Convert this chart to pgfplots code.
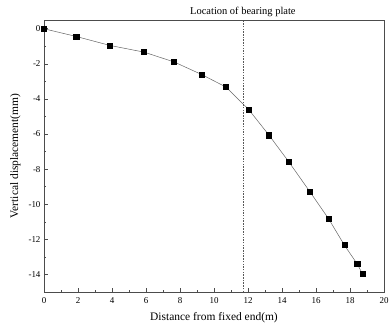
\documentclass[border=0pt]{standalone}
\usepackage{pgfplots}
\pgfplotsset{compat=1.18}
\usepackage{fontspec}
\setmainfont{Liberation Serif}
\begin{document}
\begin{tikzpicture}
\begin{axis}[
  scale only axis,
  width=340bp, height=272bp,
  xmin=0, xmax=20, ymin=-15, ymax=0.5,
  xtick={0,2,...,20}, ytick={-14,-12,...,0},
  minor x tick num=1, minor y tick num=1,
  tick align=inside,
  xtick pos=bottom, ytick pos=left,
  major tick length=4bp, minor tick length=2.5bp,
  axis line style={draw=gray!60!black, line width=0.9pt},
  every tick/.style={gray!60!black, line width=0.6pt},
  tick label style={font=\fontsize{9}{10}\selectfont},
  xticklabel style={yshift=-2bp},
  /pgf/number format/assume math mode=true,
  xlabel={Distance from fixed end(m)},
  ylabel={Vertical displacement(mm)},
  label style={font=\fontsize{11.5}{13}\selectfont},
  xlabel style={yshift=-2bp},
  ylabel style={yshift=1bp},
  clip=false,
]
\addplot[draw=gray!80!black, line width=0.5pt, mark=square*, mark size=2.6bp, mark options={fill=black, draw=black}]
coordinates {
(0,0) (1.90,-0.44) (3.88,-0.95) (5.88,-1.33) (7.65,-1.89) (9.28,-2.61)
(10.70,-3.32) (12.04,-4.60) (13.24,-6.07) (14.39,-7.57) (15.63,-9.27)
(16.75,-10.84) (17.67,-12.33) (18.43,-13.41) (18.73,-13.96)
};
\addplot[draw=gray!70!black, dash pattern=on 1.5bp off 1.2bp, line width=0.4pt] coordinates {(11.72,-15) (11.72,0.5)};
\node[anchor=base, font=\fontsize{10.5}{12}\selectfont] at (axis cs:11.7,0.5) [yshift=5bp] {Location of bearing plate};
\end{axis}
\path[use as bounding box] (current axis.south west) ++(-44bp,-37bp) rectangle ([shift={(8bp,20bp)}]current axis.north east);
\end{tikzpicture}
\end{document}
